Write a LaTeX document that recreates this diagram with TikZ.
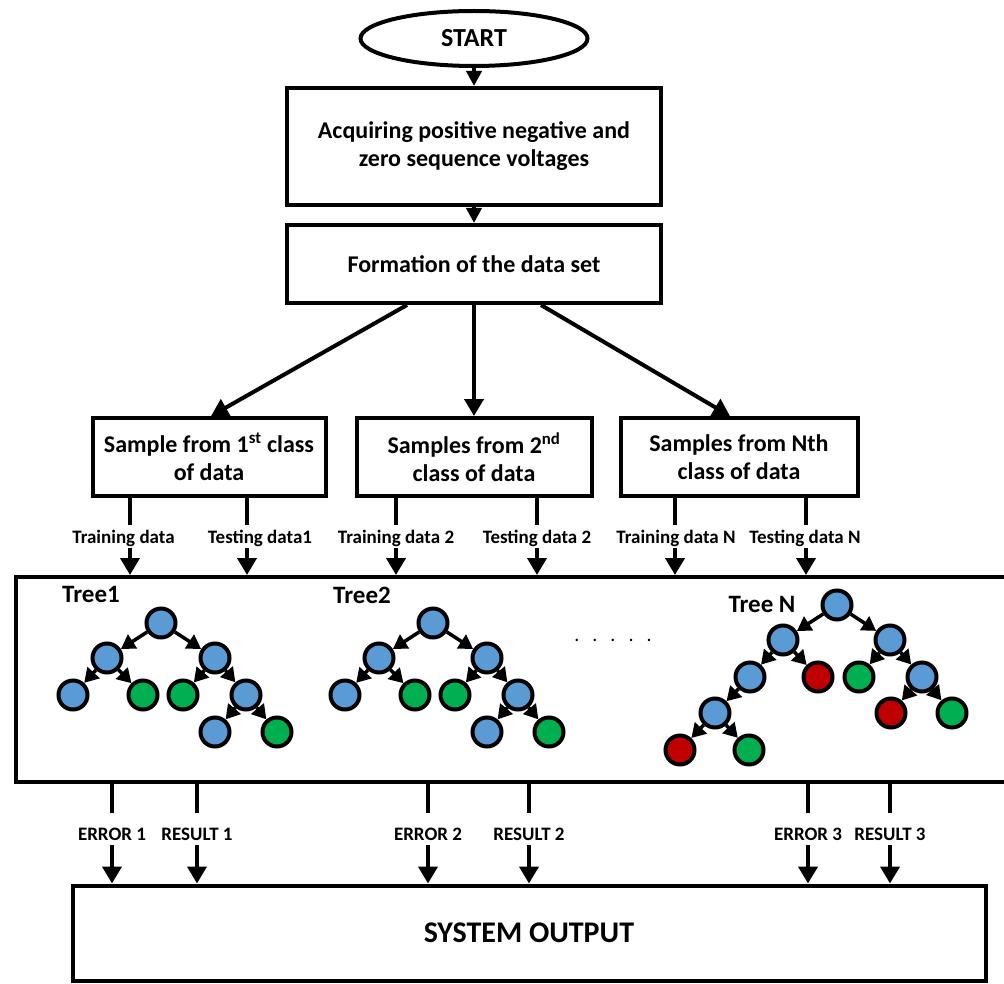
\documentclass[tikz,border=0pt]{standalone}
\usepackage{fontspec}
\setmainfont{Carlito}
\usetikzlibrary{arrows.meta,calc,shapes.geometric}
\definecolor{leafblue}{HTML}{5B9BD5}
\definecolor{leafgreen}{HTML}{00B050}
\definecolor{leafred}{HTML}{C00000}

\tikzset{
  flowbox/.style={draw, line width=4pt, fill=white, align=center, inner sep=0pt,
    font=\bfseries\fontsize{24}{28}\selectfont},
  conn/.style={line width=4pt},
  flowarrow/.style={line width=4pt, -{Triangle[length=17pt,width=19pt]}},
  datalabel/.style={font=\bfseries\fontsize{19}{22}\selectfont, inner xsep=0pt,
    inner ysep=0pt, anchor=base},
  treelabel/.style={font=\bfseries\fontsize{25}{29}\selectfont, inner sep=0pt, anchor=base},
  leaf/.style={circle, draw, line width=4pt, minimum size=29pt, inner sep=0pt},
  bn/.style={leaf, fill=leafblue},
  gn/.style={leaf, fill=leafgreen},
  rn/.style={leaf, fill=leafred},
  branch/.style={line width=3.5pt, -{Triangle[length=14pt,width=16pt]}},
}

\begin{document}
\begin{tikzpicture}[x=1pt,y=-1pt]
\useasboundingbox (0,0) rectangle (1004,984);
\clip (0,0) rectangle (1004,984);

% ---- main flow ----
\node[ellipse, draw, line width=4pt, fill=white, minimum width=227pt,
  minimum height=55pt, inner sep=0pt, font=\bfseries\fontsize{26}{30}\selectfont]
  (start) at (474,38.5) {START};
\node[flowbox, minimum width=374pt, minimum height=117pt] (acq) at (474,146.5)
  {Acquiring positive negative and\\zero sequence voltages};
\node[flowbox, minimum width=374pt, minimum height=78pt] (form) at (474,264)
  {Formation of the data set};

\node[flowbox, minimum width=233pt, minimum height=78pt] (clsA) at (209,457)
  {Sample from 1\textsuperscript{st} class\\of data};
\node[flowbox, minimum width=235pt, minimum height=78pt] (clsB) at (474,457)
  {Samples from 2\textsuperscript{nd}\\class of data};
\node[flowbox, minimum width=237pt, minimum height=78pt] (clsC) at (739,457)
  {Samples from Nth\\class of data};

\draw[line width=4pt, -{Triangle[length=15pt,width=15pt]}] (start.south) -- (acq.north);
\draw[line width=4pt, -{Triangle[length=15pt,width=15pt]}] (acq.south) -- (form.north);
\draw[flowarrow] ($(form.south)+(-67,0)$) -- ($(clsA.north)+(2,0)$);
\draw[flowarrow] (form.south) -- (clsB.north);
\draw[flowarrow] ($(form.south)+(67,0)$) -- ($(clsC.north)+(-9,0)$);

% ---- tree panel ----
\node[draw, line width=4pt, minimum width=1010pt, minimum height=205pt,
  inner sep=0pt, anchor=north west] (forest) at (14,575) {};

% ---- data labels into the tree panel ----
\node[datalabel, text height=18pt, text depth=5pt] (tA1) at (123.5,543) {Training data};
\node[datalabel, text height=18pt, text depth=5pt] (tA2) at (260,543) {Testing data1};
\node[datalabel, text height=18pt, text depth=5pt] (tB1) at (396,543) {Training data 2};
\node[datalabel, text height=18pt, text depth=5pt] (tB2) at (537,543) {Testing data 2};
\node[datalabel, text height=18pt, text depth=5pt] (tC1) at (676,543) {Training data N};
\node[datalabel, text height=18pt, text depth=5pt] (tC2) at (805,543) {Testing data N};

\coordinate (xA1) at (130,0);
\coordinate (xA2) at (247,0);
\coordinate (xB1) at (396,0);
\coordinate (xB2) at (537,0);
\coordinate (xC1) at (675,0);
\coordinate (xC2) at (806,0);

\foreach \b/\l/\x in {clsA/tA1/xA1, clsA/tA2/xA2, clsB/tB1/xB1, clsB/tB2/xB2,
                      clsC/tC1/xC1, clsC/tC2/xC2}{
  \draw[conn] (\b.south -| \x) -- (\l.north -| \x);
  \draw[flowarrow] (\l.south -| \x) -- (forest.north -| \x);
}

% ---- trees ----
\node[treelabel] (lab1) at (91,602) {Tree1};
\node[treelabel] (lab2) at (362,603) {Tree2};
\node[treelabel] (labN) at (762,612) {Tree N};
\node[font=\fontsize{20}{24}\selectfont, inner sep=0pt] (dots) at (613,640)
  {.\hspace{13pt}.\hspace{13pt}.\hspace{13pt}.\hspace{13pt}.};

% tree 1
\node[bn] (p1)    at (161,623) {};
\node[bn] (p1a)   at (107,658) {};
\node[bn] (p1b)   at (215,658) {};
\node[bn] (p1aa)  at (73,695) {};
\node[gn] (p1ab)  at (143,695) {};
\node[gn] (p1ba)  at (183,695) {};
\node[bn] (p1bb)  at (246,695) {};
\node[bn] (p1bba) at (215,732) {};
\node[gn] (p1bbb) at (277,732) {};
\foreach \u/\v in {p1/p1a, p1/p1b, p1a/p1aa, p1a/p1ab, p1b/p1ba, p1b/p1bb,
                   p1bb/p1bba, p1bb/p1bbb}
  \draw[branch] (\u) -- (\v);

% tree 2
\node[bn] (p2)    at (433,623) {};
\node[bn] (p2a)   at (379,658) {};
\node[bn] (p2b)   at (487,658) {};
\node[bn] (p2aa)  at (345,695) {};
\node[gn] (p2ab)  at (415,695) {};
\node[gn] (p2ba)  at (455,695) {};
\node[bn] (p2bb)  at (518,695) {};
\node[bn] (p2bba) at (487,732) {};
\node[gn] (p2bbb) at (549,732) {};
\foreach \u/\v in {p2/p2a, p2/p2b, p2a/p2aa, p2a/p2ab, p2b/p2ba, p2b/p2bb,
                   p2bb/p2bba, p2bb/p2bbb}
  \draw[branch] (\u) -- (\v);

% tree N
\node[bn] (pn)     at (837,605) {};
\node[bn] (pna)    at (783,640) {};
\node[bn] (pnb)    at (890,640) {};
\node[bn] (pnaa)   at (750,677) {};
\node[rn] (pnab)   at (818,677) {};
\node[gn] (pnba)   at (859,677) {};
\node[bn] (pnbb)   at (922,677) {};
\node[bn] (pnaaa)  at (715,713) {};
\node[rn] (pnbba)  at (891,713) {};
\node[gn] (pnbbb)  at (952,713) {};
\node[rn] (pnaaaa) at (680,750) {};
\node[gn] (pnaaab) at (749,750) {};
\foreach \u/\v in {pn/pna, pn/pnb, pna/pnaa, pna/pnab, pnb/pnba, pnb/pnbb,
                   pnaa/pnaaa, pnbb/pnbba, pnbb/pnbbb, pnaaa/pnaaaa, pnaaa/pnaaab}
  \draw[branch] (\u) -- (\v);

% ---- outputs ----
\node[flowbox, minimum width=913pt, minimum height=95pt,
  font=\bfseries\fontsize{30}{34}\selectfont] (out) at (529,933) {SYSTEM OUTPUT};

\node[datalabel, text height=27pt, text depth=5pt] (e1) at (112,840) {ERROR 1};
\node[datalabel, text height=27pt, text depth=5pt] (r1) at (197,840) {RESULT 1};
\node[datalabel, text height=27pt, text depth=5pt] (e2) at (428,840) {ERROR 2};
\node[datalabel, text height=27pt, text depth=5pt] (r2) at (529,840) {RESULT 2};
\node[datalabel, text height=27pt, text depth=5pt] (e3) at (808,840) {ERROR 3};
\node[datalabel, text height=27pt, text depth=5pt] (r3) at (890,840) {RESULT 3};

\foreach \l in {e1, r1, e2, r2, e3, r3}{
  \draw[conn] (forest.south -| \l) -- (\l.north);
  \draw[flowarrow] (\l.south) -- (out.north -| \l);
}
\end{tikzpicture}
\end{document}
